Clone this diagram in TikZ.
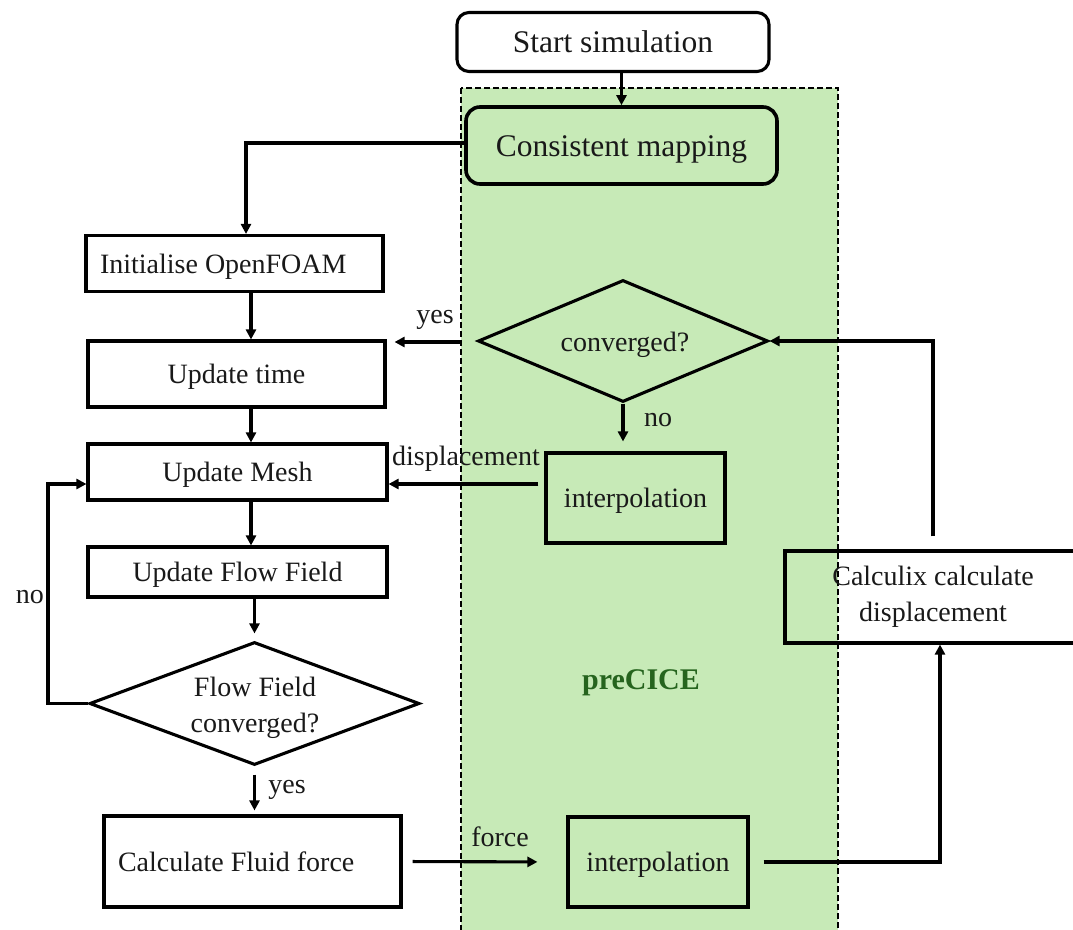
\documentclass[tikz,border=0pt]{standalone}
\usepackage{fontspec}
\setmainfont{Liberation Serif}
\usetikzlibrary{arrows.meta,shapes.geometric}
\definecolor{pgreen}{RGB}{199,234,183}
\definecolor{tgreen}{RGB}{38,100,30}
\definecolor{txt}{RGB}{25,25,25}
\begin{document}
\begin{tikzpicture}[x=1pt,y=-1pt,
  base/.style={font=\fontsize{28}{36}\selectfont, text=txt},
  box/.style={base, draw, line width=3.1pt, rectangle, inner sep=0pt, align=center},
  one/.style={text height=19pt, text depth=0pt},
  dia/.style={draw, line width=3.1pt, diamond, inner sep=0pt},
  rbox/.style={draw, line width=3.1pt, rectangle, rounded corners=12pt, inner sep=0pt, font=\fontsize{31.5}{36}\selectfont, text=txt, text height=21pt, text depth=0pt},
  arr/.style={line width=3.1pt, -{Triangle[length=10pt,width=10pt]}},
  lbl/.style={base, inner sep=0pt}
]
\useasboundingbox (0,0) rectangle (1073,929);
\clip (0,0) rectangle (1073,929);
% preCICE region
\path[fill=pgreen, draw=black, line width=1.4pt, dash pattern=on 6pt off 3pt] (461,88) rectangle (838,945);
\node[text=tgreen, font=\fontsize{30}{36}\selectfont\bfseries, inner sep=0pt] (pre) at (641,683) {preCICE};

% nodes
\node[rbox, minimum width=312pt, minimum height=59pt] (start) at (613,42) {Start simulation};
\node[rbox, fill=pgreen, line width=3.6pt, rounded corners=14pt, minimum width=311pt, minimum height=77pt] (cm) at (621.5,145.5) {Consistent mapping};
\node[box, one, minimum width=297pt, minimum height=56pt] (init) at (234.5,263.5) {\makebox[269pt][l]{Initialise OpenFOAM}};
\node[box, one, minimum width=297pt, minimum height=66pt] (ut) at (236.5,374) {Update time};
\node[box, one, minimum width=299pt, minimum height=56pt] (um) at (237.5,472) {Update Mesh};
\node[box, one, minimum width=299pt, minimum height=50pt] (uff) at (237.5,572) {Update Flow Field};
\node[dia, minimum width=330pt, minimum height=123pt] (ffc) at (254.5,703.5) {};
\node[base, align=center, inner sep=0pt] (ffct) at (255,708) {Flow Field\\converged?};
\node[box, one, minimum width=297pt, minimum height=91pt] (cfc) at (252.5,861.5) {\makebox[269pt][l]{Calculate Fluid force}};
\node[dia, minimum width=290pt, minimum height=122pt] (cv) at (623,341) {};
\node[base, one, inner sep=0pt] (cvt) at (625,342) {converged?};
\node[box, one, minimum width=179pt, minimum height=90pt] (int1) at (635.5,498) {interpolation};
\node[box, one, minimum width=180pt, minimum height=90pt] (int2) at (658,862) {interpolation};
\node[box, minimum width=296pt, minimum height=92pt] (calc) at (933,597) {Calculix calculate\\displacement};

% helper coordinates
\coordinate (colA) at (251,0);
\coordinate (colC) at (940,0);
\coordinate (rowD) at (0,484);
\coordinate (noc) at (48,484);
\coordinate (ge) at (461,342);
\coordinate (cmline) at (0,143);
\coordinate (initcol) at (246,0);

% connectors
\draw[arr] (start.south -| cm.north) -- (cm.north);
\draw[arr] (cm.west |- cmline) -| (init.north -| initcol);
\draw[arr] (init.south -| colA) -- (ut.north -| colA);
\draw[arr] (ut.south -| colA) -- (um.north -| colA);
\draw[arr] (um.south -| colA) -- (uff.north -| colA);
\draw[arr, shorten >=7pt] (uff.south -| ffc.north) -- (ffc.north);
\draw[arr] (ffc.west) -| (noc) -- (noc -| um.west);
\draw[arr, shorten <=8pt, shorten >=4pt] (ffc.south) -- (ffc.south |- cfc.north);
\draw[arr, shorten <=10pt, shorten >=29pt] (cfc.east) -- (int2.west);
\draw[arr, shorten <=14pt] (int2.east) -| (calc.south -| colC);
\draw[arr, shorten <=13pt] (calc.north) |- (cv.east);
\draw[arr, shorten >=8pt] (ge) -- (ge -| ut.east);
\draw[arr, shorten >=10pt] (cv.south) -- (cv.south |- int1.north);
\draw[arr, shorten <=6pt] (int1.west |- rowD) -- (um.east |- rowD);

% labels
\node[lbl] (lno1) at (30,597) {no};
\node[lbl] (lyes1) at (287,790) {yes};
\node[lbl] (lforce) at (500,837) {force};
\node[lbl] (lyes2) at (435,320) {yes};
\node[lbl] (lno2) at (658,420) {no};
\node[lbl] (ldisp) at (466,459) {displacement};
\end{tikzpicture}
\end{document}
